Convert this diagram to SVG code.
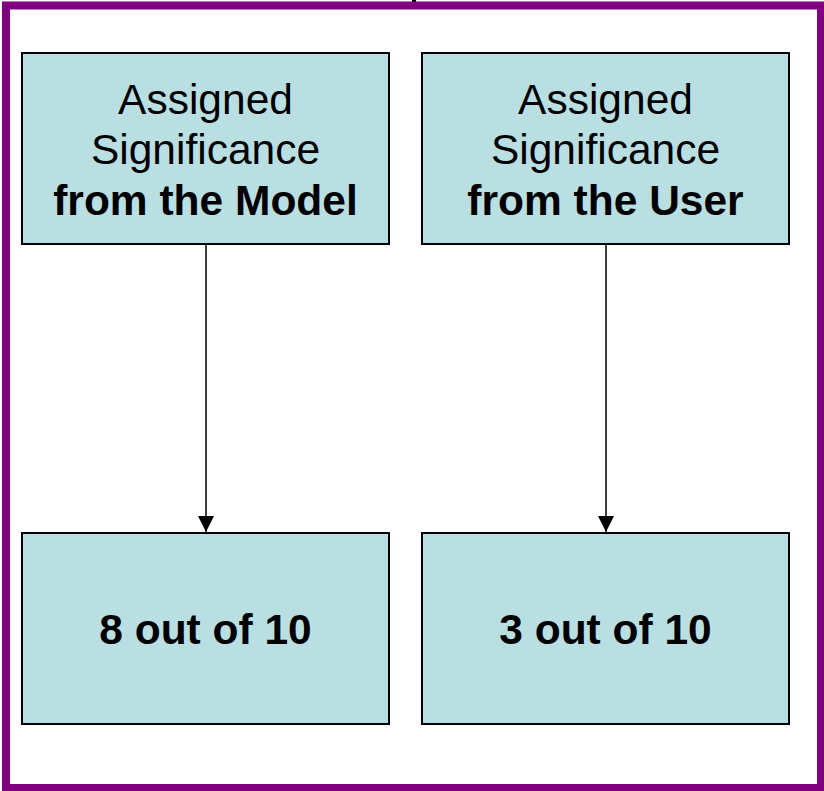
<svg xmlns="http://www.w3.org/2000/svg" width="824" height="791" viewBox="0 0 824 791">
<style>
.box{fill:#badfe3;stroke:#000;stroke-width:2}
.t{font-family:"Liberation Sans",Arial,sans-serif;font-size:42.5px;fill:#000;text-anchor:middle}
.b{font-weight:bold}
.c{stroke:#000;stroke-width:1.5;fill:none}
</style>
<defs>
<marker id="ah" markerUnits="userSpaceOnUse" markerWidth="16" markerHeight="16" viewBox="0 0 16 16" refX="16" refY="8" orient="auto">
<path d="M0,0 L16,8 L0,16 Z" fill="#000"/>
</marker>
</defs>
<rect x="0" y="0" width="824" height="791" fill="#fff"/>
<rect x="412" y="0" width="4" height="2" fill="#000"/>
<rect id="frame" x="6" y="5.5" width="815" height="782.5" fill="none" stroke="#800080" stroke-width="8"/>
<g id="model">
<rect class="box" x="22" y="53" width="367" height="191"/>
<text class="t" x="205.5" y="114">Assigned</text>
<text class="t" x="205.5" y="164">Significance</text>
<text class="t b" x="205.5" y="215">from the Model</text>
</g>
<g id="user">
<rect class="box" x="422" y="53" width="367" height="191"/>
<text class="t" x="605.5" y="114">Assigned</text>
<text class="t" x="605.5" y="164">Significance</text>
<text class="t b" x="605.5" y="215">from the User</text>
</g>
<g id="model-value">
<rect class="box" x="22" y="533" width="367" height="191"/>
<text class="t b" x="205.5" y="644">8 out of 10</text>
</g>
<g id="user-value">
<rect class="box" x="422" y="533" width="367" height="191"/>
<text class="t b" x="605.5" y="644">3 out of 10</text>
</g>
<g id="connectors">
<line class="c" x1="206" y1="245" x2="206" y2="532" marker-end="url(#ah)"/>
<line class="c" x1="606" y1="245" x2="606" y2="532" marker-end="url(#ah)"/>
</g>
</svg>
